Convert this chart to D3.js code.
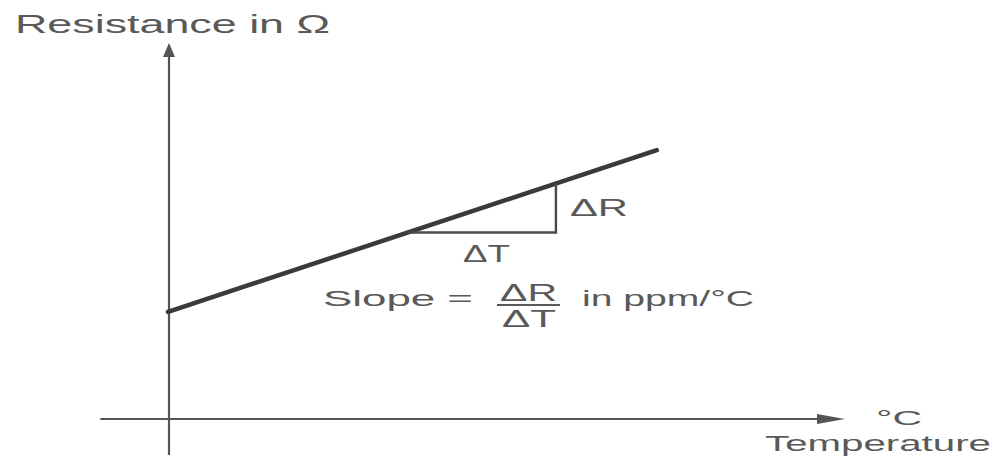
<!DOCTYPE html>
<html>
<head>
<meta charset="utf-8">
<script src="https://cdn.jsdelivr.net/npm/d3@7"></script>
<style>
  body { margin: 0; background: #fff; }
</style>
</head>
<body>
<div id="chart"></div>
<script>
// values (arbitrary units, origin at axis crossing)
var temperature = [0, 72.2];
var resistance = [28.5, 71.5];
var triangleT = [35.5, 57.3];
var triangleR = [49.6, 62.6];
var axisT = [-10, 100];
var axisR = [-9.6, 100];

var yTitle = "Resistance in \u03A9";
var xUnit = "\u00B0C";
var xTitle = "Temperature";

var svg = d3.select('#chart').append('svg')
  .attr('width', 994)
  .attr('height', 459)
  .attr('font-family', 'Liberation Sans, Arial, sans-serif');

var textColor = '#595959';
var axisColor = '#555';

var x = d3.scaleLinear().domain([0, 100]).range([168, 845]);
var y = d3.scaleLinear().domain([0, 100]).range([419, 43]);

// axes
svg.append('line')
  .attr('x1', x(axisT[0])).attr('x2', x(axisT[1]) - 20)
  .attr('y1', y(0)).attr('y2', y(0))
  .attr('stroke', axisColor).attr('stroke-width', 2.2);

svg.append('line')
  .attr('x1', x(0) + 1).attr('x2', x(0) + 1)
  .attr('y1', y(axisR[0])).attr('y2', y(axisR[1]) + 10)
  .attr('stroke', axisColor).attr('stroke-width', 2.2);

// arrow heads
svg.append('path')
  .attr('d', `M${x(axisT[1])},${y(0)} L${x(axisT[1]) - 28},${y(0) - 5} L${x(axisT[1]) - 28},${y(0) + 5} Z`)
  .attr('fill', axisColor);

svg.append('path')
  .attr('d', `M${x(0) + 1},${y(axisR[1])} L${x(0) - 5},${y(axisR[1]) + 14} L${x(0) + 7},${y(axisR[1]) + 14} Z`)
  .attr('fill', axisColor);

// resistance vs temperature line
var line = d3.line()
  .x(d => x(d[0]))
  .y(d => y(d[1]));

svg.append('path')
  .datum(d3.zip(temperature, resistance))
  .attr('d', line)
  .attr('fill', 'none')
  .attr('stroke', '#3a3a3a')
  .attr('stroke-width', 4.5)
  .attr('stroke-linecap', 'round');

// slope triangle
svg.append('path')
  .datum([[triangleT[0], triangleR[0]], [triangleT[1], triangleR[0]], [triangleT[1], triangleR[1]]])
  .attr('d', line)
  .attr('fill', 'none')
  .attr('stroke', '#4a4a4a')
  .attr('stroke-width', 2.4);

// labels
function label(txt, x0, base, len, size) {
  return svg.append('text')
    .attr('x', x0)
    .attr('y', base)
    .attr('fill', textColor)
    .attr('font-size', size + 'px')
    .attr('textLength', len)
    .attr('lengthAdjust', 'spacingAndGlyphs')
    .text(txt);
}

label(yTitle, 15, 33, 315, 25);
label(xUnit, 876, 425, 46, 21);
label(xTitle, 765, 451, 226, 22);

label('\u0394R', x(triangleT[1]) + 14, 216, 58, 23);
label('\u0394T', 463, 262, 47, 24);

label('Slope =', 323, 306, 150, 22);
label('\u0394R', 500, 301, 57, 23);
label('\u0394T', 502, 327, 54, 23);
svg.append('line')
  .attr('x1', 497).attr('x2', 560)
  .attr('y1', 305).attr('y2', 305)
  .attr('stroke', textColor).attr('stroke-width', 2);
label('in ppm/\u00B0C', 582, 306, 172, 22);
</script>
</body>
</html>
